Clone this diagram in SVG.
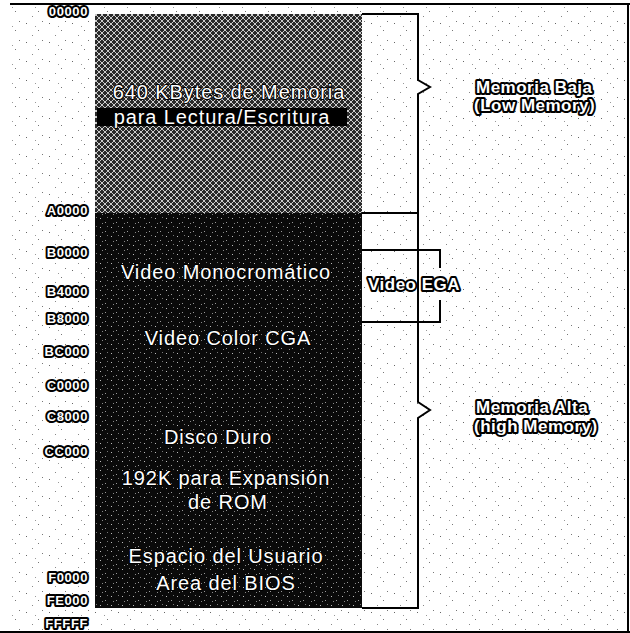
<svg xmlns="http://www.w3.org/2000/svg" width="630" height="633" viewBox="0 0 630 633">
<style>
.lbl{font-family:"Liberation Sans",Arial,sans-serif;font-size:20px;letter-spacing:0.9px;fill:#fff;text-anchor:middle;stroke:#000;stroke-width:2px;paint-order:stroke;stroke-linejoin:round}
.addr{font-family:"Liberation Sans",Arial,sans-serif;font-size:13px;font-weight:bold;letter-spacing:0.6px;fill:#fff;stroke:#000;stroke-width:4px;paint-order:stroke;stroke-linejoin:round;text-anchor:end}
.side{font-family:"Liberation Sans",Arial,sans-serif;font-size:17px;font-weight:bold;letter-spacing:0.5px;fill:#fff;stroke:#000;stroke-width:4px;paint-order:stroke;stroke-linejoin:round}
.ln{fill:none;stroke:#000;stroke-width:2}
</style>
<defs>
<pattern id="hatch" width="6" height="6" patternUnits="userSpaceOnUse">
<rect width="6" height="6" fill="#2a2a2a"/>
<path d="M0 3 L3 0 L6 3 L3 6 Z" fill="none" stroke="#ccc" stroke-width="1"/>
</pattern>
<pattern id="speck" width="11" height="9" patternUnits="userSpaceOnUse">
<rect width="11" height="9" fill="#0a0a0a"/>
<rect x="1" y="2" width="1" height="1" fill="#bbb"/>
<rect x="6" y="6" width="1" height="1" fill="#999"/>
<rect x="8" y="1" width="1" height="1" fill="#777"/>
<rect x="3" y="7" width="1" height="1" fill="#888"/>
</pattern>
<pattern id="noise" width="23" height="19" patternUnits="userSpaceOnUse">
<rect x="3" y="4" width="1" height="1" fill="#666"/>
<rect x="15" y="11" width="1" height="1" fill="#777"/>
<rect x="9" y="16" width="1" height="1" fill="#888"/>
<rect x="19" y="2" width="1" height="1" fill="#777"/>
<rect x="12" y="7" width="1" height="1" fill="#999"/>
</pattern>
</defs>
<rect width="630" height="633" fill="#fff"/>
<rect x="10" y="4" width="618" height="627" fill="url(#noise)"/>
<g id="frame">
<line x1="10" y1="4" x2="630" y2="4" class="ln"/>
<line x1="628" y1="4" x2="628" y2="632" class="ln"/>
<line x1="0" y1="632" x2="630" y2="632" class="ln"/>
</g>
<g id="low-memory-block">
<rect x="95" y="14" width="267" height="199" fill="url(#hatch)"/>
<rect x="97" y="108" width="250" height="18" fill="#000"/>
<text class="lbl" x="229" y="99">640 KBytes de Memoria</text>
<text class="lbl" x="222" y="124">para Lectura/Escritura</text>
</g>
<g id="high-memory-block">
<rect x="95" y="213" width="267" height="395" fill="url(#speck)"/>
<text class="lbl" x="226" y="279">Video Monocromático</text>
<text class="lbl" x="228" y="345">Video Color CGA</text>
<text class="lbl" x="218" y="444">Disco Duro</text>
<text class="lbl" x="226" y="485">192K para Expansión</text>
<text class="lbl" x="228" y="509">de ROM</text>
<text class="lbl" x="226" y="563">Espacio del Usuario</text>
<text class="lbl" x="226" y="590">Area del BIOS</text>
</g>
<g id="addresses">
<text class="addr" x="88" y="16">00000</text>
<text class="addr" x="88" y="215">A0000</text>
<text class="addr" x="88" y="257">B0000</text>
<text class="addr" x="88" y="296">B4000</text>
<text class="addr" x="88" y="323">B8000</text>
<text class="addr" x="88" y="356">BC000</text>
<text class="addr" x="88" y="390">C0000</text>
<text class="addr" x="88" y="421">C8000</text>
<text class="addr" x="88" y="456">CC000</text>
<text class="addr" x="88" y="582">F0000</text>
<text class="addr" x="88" y="605">FE000</text>
<text class="addr" x="88" y="628">FFFFF</text>
</g>
<g id="connectors">
<path class="ln" d="M362 14 H418 V80 L430 87 L418 94 V213 H362"/>
<path class="ln" d="M418 213 V402 L430 410 L418 418 V608 H362"/>
<path class="ln" d="M362 250 H440 V268 M440 300 V322 H362"/>
</g>
<g id="side-labels">
<text class="side" x="476" y="93">Memoria Baja</text>
<text class="side" x="474" y="111">(Low Memory)</text>
<text class="side" x="368" y="290">Video EGA</text>
<text class="side" x="476" y="413">Memoria Alta</text>
<text class="side" x="474" y="432">(high Memory)</text>
</g>
</svg>
